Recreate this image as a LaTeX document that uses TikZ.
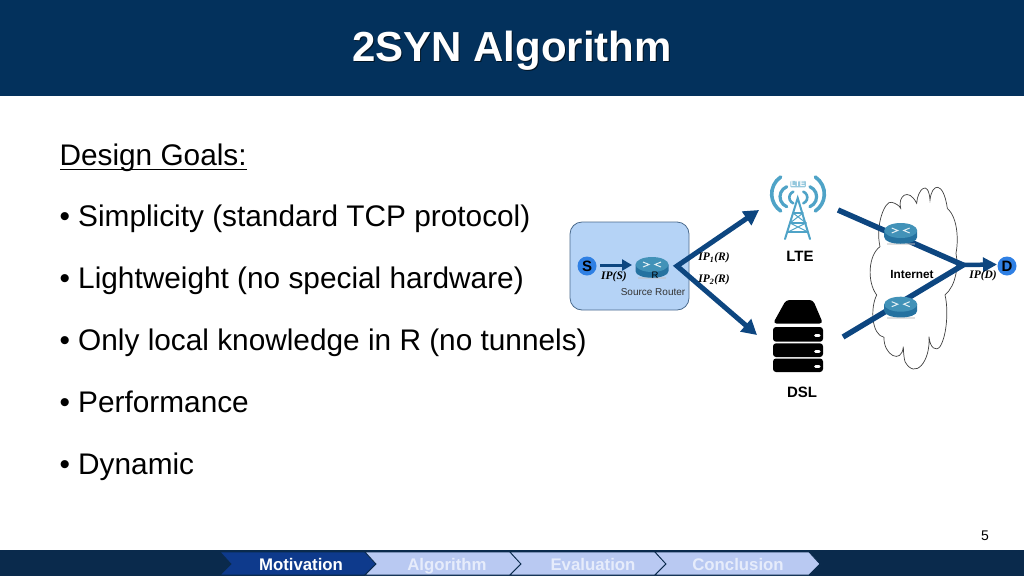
\documentclass[tikz,border=0pt]{standalone}
\usepackage{fontspec}
\setmainfont{Liberation Sans}
\newfontfamily\ipfont{Liberation Serif}
\usetikzlibrary{arrows.meta}
\definecolor{titleblue}{HTML}{03315C}
\definecolor{linkblue}{HTML}{0D4680}
\definecolor{hostblue}{HTML}{2F80E4}
\definecolor{boxblue}{HTML}{B5D3F6}
\definecolor{boxedge}{HTML}{4A6A8C}
\definecolor{towerblue}{HTML}{4FA3C7}
\definecolor{routertop}{HTML}{4292B8}
\definecolor{routerside}{HTML}{2572A0}
\definecolor{tabdark}{HTML}{0E3A8C}
\definecolor{tablight}{HTML}{B9C9F2}
\definecolor{tabtext}{HTML}{E6ECFB}
\definecolor{bardark}{HTML}{0A2A4C}
\tikzset{
    goal/.style={anchor=base west, font=\fontsize{29.8}{30}\selectfont},
    host/.style={circle, fill=hostblue, minimum size=19pt, inner sep=0pt, font=\fontsize{15}{15}\selectfont\bfseries},
    link/.style={draw=linkblue, line width=5pt, {Triangle[length=15pt,width=16pt]}-{Triangle[length=15pt,width=16pt]}},
    ipaddr/.style={font=\ipfont\fontsize{11.5}{12}\selectfont\bfseries\itshape},
    tag/.style={font=\fontsize{15}{15}\selectfont\bfseries},
    tab/.style={fill=tablight, draw=bardark, line width=0.8pt},
    tabname/.style={anchor=base, font=\fontsize{16.8}{17}\selectfont\bfseries, text=tabtext},
    pics/router/.style={code={
        \fill[black!25, opacity=0.5] (-14,10) rectangle (14,12);
        \fill[routerside] (-16.5,-2.5) -- (-16.5,4) .. controls (-16.5,13) and (16.5,13) .. (16.5,4) -- (16.5,-2.5) -- cycle;
        \fill[routertop] (0,-2.5) circle[x radius=16.5, y radius=7.5];
        \draw[white!85!routertop, line width=1pt] (-9,-5) -- (-3,-2.5) -- (-9,0) (9,-5) -- (3,-2.5) -- (9,0);
    }}
}
\begin{document}
\begin{tikzpicture}[x=1pt, y=-1pt]
    \useasboundingbox (0,0) rectangle (1024,576);
    % title
    \fill[titleblue] (0,0) rectangle (1024,96);
    \node[anchor=base, text=black!60!titleblue, font=\fontsize{42}{42}\selectfont\bfseries] at (513,62) {2SYN Algorithm};
    \node[anchor=base, text=white, font=\fontsize{42}{42}\selectfont\bfseries] (title) at (512,61) {2SYN Algorithm};
    % goals
    \node[goal] (design) at (56,165) {Design Goals:};
    \draw[line width=1.2pt] (60,169.5) -- (247,169.5);
    \node[goal] (simple) at (56,226) {• Simplicity (standard TCP protocol)};
    \node[goal] (light) at (56,288) {• Lightweight (no special hardware)};
    \node[goal] (local) at (56,350) {• Only local knowledge in R (no tunnels)};
    \node[goal] (perf) at (56,412) {• Performance};
    \node[goal] (dyn) at (56,474) {• Dynamic};
    % source box
    \draw[fill=boxblue, draw=boxedge, line width=0.8pt, rounded corners=12pt] (570,222) rectangle (689,310);
    \node[host] (src) at (587,266) {S};
    \path (652,267) pic {router};
    \coordinate (rin) at (632,265);
    \coordinate (rout) at (677,266);
    \node[font=\fontsize{9.5}{10}\selectfont] (rname) at (655,275) {R};
    \node[font=\fontsize{10}{10}\selectfont, text=black!80] (rcap) at (653,292) {Source Router};
    \coordinate (srcout) at (600,265);
    \draw[draw=linkblue, line width=3pt, -{Triangle[length=10pt,width=11pt]}] (srcout) -- (rin);
    \node[ipaddr] (ips) at (614,277) {IP(S)};
    % links from the router
    \coordinate (lteend) at (759,210);
    \coordinate (dslend) at (757,335);
    \draw[link] (lteend) -- (rout) -- (dslend);
    \node[ipaddr] (ipone) at (714,258) {IP\textsubscript{1}(R)};
    \node[ipaddr] (iptwo) at (714,280) {IP\textsubscript{2}(R)};
    % lte tower
    \begin{scope}[draw=towerblue, line cap=round]
        \draw[line width=3.6pt] (780.7,177) arc[start angle=236, end angle=124, radius=20.5];
        \draw[line width=3.6pt] (815.3,177) arc[start angle=-56, end angle=56, radius=20.5];
        \draw[line width=3.2pt] (786.75,186.7) arc[start angle=248, end angle=112, radius=10.8];
        \draw[line width=3.2pt] (809.85,186.7) arc[start angle=-68, end angle=68, radius=10.8];
        \draw[line width=2.6pt] (793.3,191.7) arc[start angle=249, end angle=111, radius=6.2];
        \draw[line width=2.6pt] (803.3,191.7) arc[start angle=-69, end angle=69, radius=6.2];
        \draw[line width=2pt] (785,239) -- (797.7,198) -- (810,239);
        \draw[line width=1.2pt] (793,213) -- (803,213) (790,223) -- (806,223) (788,232) -- (808,232);
        \draw[line width=1pt] (793,213) -- (806,223) -- (788,232) (803,213) -- (790,223) -- (808,232);
    \end{scope}
    \node[fill=towerblue!60, rounded corners=1pt, inner sep=0.5pt, text=white, font=\fontsize{8}{8}\selectfont\bfseries] (ltemark) at (798,184) {LTE};
    \node[tag] (lte) at (800,256) {LTE};
    % dsl server
    \fill[black, rounded corners=3.5pt] (786,300) -- (813,300) -- (823,323.5) -- (773,323.5) -- cycle;
    \fill[black, rounded corners=3pt] (773,327) rectangle (823,341.7);
    \fill[black, rounded corners=3pt] (773,343.3) rectangle (823,357);
    \fill[black, rounded corners=3pt] (773,358.5) rectangle (823,372);
    \draw[white, line width=3pt, line cap=round] (815.5,335.5) -- (819,335.5) (815.5,351) -- (819,351) (815.5,366) -- (819,366);
    \node[tag] (dsl) at (802,392) {DSL};
    % cloud
    \begin{scope}[shift={(860,175)}, x=0.3333pt, y=-0.3333pt]
        \draw[black!75, line width=0.7pt] (60,215) .. controls (45,150) and (75,75) .. (95,82) .. controls (108,85) and (118,92) .. (122,100)
            .. controls (112,65) and (145,35) .. (170,85)
            .. controls (172,45) and (205,10) .. (210,75)
            .. controls (215,25) and (250,15) .. (262,100)
            .. controls (295,130) and (295,200) .. (288,235)
            .. controls (295,270) and (290,330) .. (255,360)
            .. controls (265,400) and (262,480) .. (240,515)
            .. controls (228,530) and (210,520) .. (207,485)
            .. controls (212,560) and (165,615) .. (135,560)
            .. controls (132,550) and (130,530) .. (130,515)
            .. controls (125,570) and (70,540) .. (72,487)
            .. controls (35,480) and (30,400) .. (50,360)
            .. controls (20,320) and (25,240) .. (60,215);
    \end{scope}
    % links through the internet
    \coordinate (ltein) at (838,210);
    \coordinate (dslin) at (843,337);
    \coordinate (merge) at (963,265);
    \coordinate (dstin) at (997,264.5);
    \draw[draw=linkblue, line width=5.5pt] (ltein) -- (merge) -- (dslin);
    \draw[draw=linkblue, line width=4.5pt, -{Triangle[length=14pt,width=14pt]}] (merge) -- (dstin);
    \path (900.7,233) pic {router};
    \path (900.7,306.7) pic {router};
    \node[font=\fontsize{11.8}{12}\selectfont\bfseries] (inet) at (912,274) {Internet};
    \node[ipaddr] (ipd) at (983,276) {IP(D)};
    \node[host] (dst) at (1007,266) {D};
    % page number and bottom bar
    \node[font=\fontsize{14}{14}\selectfont] (page) at (985,536) {5};
    \fill[bardark] (0,550) rectangle (1024,576);
    \draw[fill=tabdark, draw=bardark, line width=0.8pt] (220,552) -- (365,552) -- (376,564) -- (365,575) -- (220,575) -- (231,564) -- cycle;
    \draw[tab] (365,552) -- (510,552) -- (521,564) -- (510,575) -- (365,575) -- (376,564) -- cycle;
    \draw[tab] (510,552) -- (655,552) -- (666,564) -- (655,575) -- (510,575) -- (521,564) -- cycle;
    \draw[tab] (655,552) -- (809,552) -- (820,564) -- (809,575) -- (655,575) -- (666,564) -- cycle;
    \node[tabname, text=white] (motiv) at (301,570) {Motivation};
    \node[tabname] (algo) at (447,570) {Algorithm};
    \node[tabname] (eval) at (593,570) {Evaluation};
    \node[tabname] (concl) at (738,570) {Conclusion};
\end{tikzpicture}
\end{document}
